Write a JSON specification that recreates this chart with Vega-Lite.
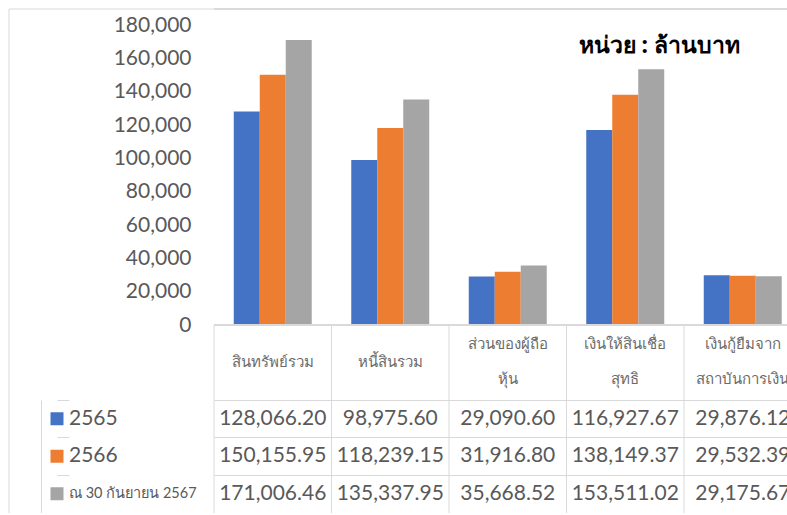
{
  "$schema": "https://vega.github.io/schema/vega-lite/v6.json",
  "padding": {"left": 8, "top": 8, "right": 0, "bottom": 0},
  "background": "#ffffff",
  "bounds": "flush",
  "spacing": 0,
  "columns": 3,
  "config": {
    "view": {"stroke": null},
    "font": "Lato"
  },
  "datasets": {
    "values": [
      {"item": "สินทรัพย์รวม", "series": "2565", "value": 128066.20},
      {"item": "สินทรัพย์รวม", "series": "2566", "value": 150155.95},
      {"item": "สินทรัพย์รวม", "series": "ณ 30 กันยายน 2567", "value": 171006.46},
      {"item": "หนี้สินรวม", "series": "2565", "value": 98975.60},
      {"item": "หนี้สินรวม", "series": "2566", "value": 118239.15},
      {"item": "หนี้สินรวม", "series": "ณ 30 กันยายน 2567", "value": 135337.95},
      {"item": "ส่วนของผู้ถือหุ้น", "series": "2565", "value": 29090.60},
      {"item": "ส่วนของผู้ถือหุ้น", "series": "2566", "value": 31916.80},
      {"item": "ส่วนของผู้ถือหุ้น", "series": "ณ 30 กันยายน 2567", "value": 35668.52},
      {"item": "เงินให้สินเชื่อสุทธิ", "series": "2565", "value": 116927.67},
      {"item": "เงินให้สินเชื่อสุทธิ", "series": "2566", "value": 138149.37},
      {"item": "เงินให้สินเชื่อสุทธิ", "series": "ณ 30 กันยายน 2567", "value": 153511.02},
      {"item": "เงินกู้ยืมจากสถาบันการเงิน", "series": "2565", "value": 29876.12},
      {"item": "เงินกู้ยืมจากสถาบันการเงิน", "series": "2566", "value": 29532.39},
      {"item": "เงินกู้ยืมจากสถาบันการเงิน", "series": "ณ 30 กันยายน 2567", "value": 29175.67}
    ],
    "cats": [
      {"item": "สินทรัพย์รวม"},
      {"item": "หนี้สินรวม"},
      {"item": "ส่วนของผู้ถือหุ้น"},
      {"item": "เงินให้สินเชื่อสุทธิ"},
      {"item": "เงินกู้ยืมจากสถาบันการเงิน"}
    ],
    "lines": [
      {"item": "สินทรัพย์รวม", "line": "mid", "label": "สินทรัพย์รวม"},
      {"item": "หนี้สินรวม", "line": "mid", "label": "หนี้สินรวม"},
      {"item": "ส่วนของผู้ถือหุ้น", "line": "first", "label": "ส่วนของผู้ถือ"},
      {"item": "ส่วนของผู้ถือหุ้น", "line": "second", "label": "หุ้น"},
      {"item": "เงินให้สินเชื่อสุทธิ", "line": "first", "label": "เงินให้สินเชื่อ"},
      {"item": "เงินให้สินเชื่อสุทธิ", "line": "second", "label": "สุทธิ"},
      {"item": "เงินกู้ยืมจากสถาบันการเงิน", "line": "first", "label": "เงินกู้ยืมจาก"},
      {"item": "เงินกู้ยืมจากสถาบันการเงิน", "line": "second", "label": "สถาบันการเงิน"}
    ],
    "series": [
      {"series": "2565"},
      {"series": "2566"},
      {"series": "ณ 30 กันยายน 2567"}
    ],
    "one": [{"k": 1}]
  },
  "concat": [
    {
      "width": 32,
      "height": 316,
      "data": {"name": "one"},
      "layer": [
        {
          "mark": {"type": "rule", "color": "#d9d9d9"},
          "encoding": {"x": {"datum": 0, "type": "quantitative", "scale": {"domain": [0, 1]}, "axis": null}}
        },
        {
          "mark": {"type": "rule", "color": "#d9d9d9"},
          "encoding": {"y": {"datum": 1, "type": "quantitative", "scale": {"domain": [0, 1]}, "axis": null}}
        }
      ]
    },
    {
      "width": 173,
      "height": 316,
      "data": {"name": "one"},
      "mark": {"type": "rule", "color": "#d9d9d9"},
      "encoding": {"y": {"datum": 1, "type": "quantitative", "scale": {"domain": [0, 1]}, "axis": null}}
    },
    {
      "width": 573,
      "height": 316,
      "data": {"name": "values"},
      "title": {
        "text": "หน่วย : ล้านบาท",
        "anchor": "end",
        "frame": "group",
        "orient": "top",
        "offset": -49,
        "dx": -47,
        "fontSize": 23,
        "fontWeight": "bold",
        "color": "#000000",
        "font": "Noto Sans"
      },
      "layer": [
        {
          "mark": {"type": "bar"},
          "encoding": {
            "x": {
              "field": "item",
              "type": "nominal",
              "sort": null,
              "scale": {
                "domain": ["สินทรัพย์รวม", "หนี้สินรวม", "ส่วนของผู้ถือหุ้น", "เงินให้สินเชื่อสุทธิ", "เงินกู้ยืมจากสถาบันการเงิน"],
                "range": [0, 587.5],
                "paddingInner": 0,
                "paddingOuter": 0
              },
              "axis": null
            },
            "xOffset": {
              "field": "series",
              "type": "nominal",
              "scale": {
                "domain": ["2565", "2566", "ณ 30 กันยายน 2567"],
                "paddingInner": 0,
                "paddingOuter": 0.76
              }
            },
            "y": {
              "field": "value",
              "type": "quantitative",
              "scale": {"domain": [0, 189600], "nice": false, "zero": true},
              "axis": {
                "values": [0, 20000, 40000, 60000, 80000, 100000, 120000, 140000, 160000, 180000],
                "format": ",.0f",
                "labelFont": "Lato",
                "labelFontSize": 21,
                "labelColor": "#595959",
                "labelPadding": 23,
                "ticks": false,
                "tickSize": 0,
                "domain": false,
                "grid": false,
                "title": null
              }
            },
            "color": {
              "field": "series",
              "type": "nominal",
              "scale": {
                "domain": ["2565", "2566", "ณ 30 กันยายน 2567"],
                "range": ["#4472C4", "#ED7D31", "#A5A5A5"]
              },
              "legend": null
            }
          }
        },
        {
          "mark": {"type": "rule", "color": "#d9d9d9"},
          "encoding": {
            "y": {
              "datum": 0,
              "type": "quantitative",
              "axis": {
                "values": [0, 20000, 40000, 60000, 80000, 100000, 120000, 140000, 160000, 180000],
                "format": ",.0f",
                "labelFont": "Lato",
                "labelFontSize": 21,
                "labelColor": "#595959",
                "labelPadding": 23,
                "ticks": false,
                "tickSize": 0,
                "domain": false,
                "grid": false,
                "title": null
              }
            }
          }
        },
        {
          "mark": {"type": "rule", "color": "#d9d9d9"},
          "encoding": {
            "y": {
              "datum": 189600,
              "type": "quantitative",
              "axis": {
                "values": [0, 20000, 40000, 60000, 80000, 100000, 120000, 140000, 160000, 180000],
                "format": ",.0f",
                "labelFont": "Lato",
                "labelFontSize": 21,
                "labelColor": "#595959",
                "labelPadding": 23,
                "ticks": false,
                "tickSize": 0,
                "domain": false,
                "grid": false,
                "title": null
              }
            }
          }
        }
      ]
    },
    {
      "width": 32,
      "height": 75,
      "data": {"name": "one"},
      "mark": {"type": "rule", "color": "#d9d9d9"},
      "encoding": {"x": {"datum": 0, "type": "quantitative", "scale": {"domain": [0, 1]}, "axis": null}}
    },
    {
      "width": 173,
      "height": 75,
      "data": {"name": "one"},
      "mark": {"type": "rule", "color": "#ffffff", "opacity": 0},
      "encoding": {"x": {"datum": 0, "type": "quantitative", "scale": {"domain": [0, 1]}, "axis": null}}
    },
    {
      "width": 573,
      "height": 75,
      "layer": [
        {
          "data": {"name": "cats"},
          "mark": {"type": "rule", "color": "#d9d9d9"},
          "encoding": {
            "x": {
              "field": "item",
              "type": "nominal",
              "sort": null,
              "bandPosition": 0,
              "scale": {
                "domain": ["สินทรัพย์รวม", "หนี้สินรวม", "ส่วนของผู้ถือหุ้น", "เงินให้สินเชื่อสุทธิ", "เงินกู้ยืมจากสถาบันการเงิน"],
                "range": [0, 587.5],
                "paddingInner": 0,
                "paddingOuter": 0
              },
              "axis": null
            }
          }
        },
        {
          "data": {"name": "lines"},
          "mark": {
            "type": "text",
            "fontSize": 15,
            "color": "#6b6b6b",
            "font": "Noto Sans",
            "baseline": "middle",
            "align": "center",
            "clip": true
          },
          "encoding": {
            "x": {"field": "item", "type": "nominal", "sort": null},
            "y": {
              "field": "line",
              "type": "nominal",
              "scale": {"type": "point", "domain": ["first", "mid", "second"], "range": [19, 54], "padding": 0},
              "axis": null
            },
            "text": {"field": "label", "type": "nominal"}
          }
        }
      ]
    },
    {
      "width": 32,
      "height": 113,
      "data": {"name": "one"},
      "mark": {"type": "rule", "color": "#d9d9d9"},
      "encoding": {"x": {"datum": 0, "type": "quantitative", "scale": {"domain": [0, 1]}, "axis": null}}
    },
    {
      "width": 173,
      "height": 113,
      "data": {"name": "series"},
      "layer": [
        {
          "mark": {"type": "point", "shape": "square", "filled": true, "size": 169, "opacity": 1, "strokeWidth": 0},
          "encoding": {
            "x": {"datum": "swatch", "type": "nominal", "scale": {"type": "point", "domain": ["swatch", "label"], "range": [16, 28], "padding": 0}, "axis": null},
            "y": {
              "field": "series",
              "type": "nominal",
              "sort": null,
              "scale": {"type": "band", "domain": ["2565", "2566", "ณ 30 กันยายน 2567"], "range": [0, 112.5], "paddingInner": 0, "paddingOuter": 0},
              "axis": {
                "grid": true,
                "bandPosition": 0,
                "gridColor": "#d9d9d9",
                "gridOpacity": 1,
                "domain": true,
                "domainColor": "#d9d9d9",
                "labels": false,
                "ticks": false,
                "title": null
              }
            },
            "color": {
              "field": "series",
              "type": "nominal",
              "scale": {
                "domain": ["2565", "2566", "ณ 30 กันยายน 2567"],
                "range": ["#4472C4", "#ED7D31", "#A5A5A5"]
              },
              "legend": null
            }
          }
        },
        {
          "mark": {"type": "text", "align": "left", "baseline": "middle", "color": "#595959", "font": "Lato"},
          "encoding": {
            "x": {"datum": "label", "type": "nominal"},
            "y": {"field": "series", "type": "nominal", "sort": null},
            "text": {"field": "series", "type": "nominal"},
            "size": {
              "condition": {"test": "datum.series === 'ณ 30 กันยายน 2567'", "value": 14.5},
              "value": 21
            }
          }
        }
      ]
    },
    {
      "width": 573,
      "height": 113,
      "layer": [
        {
          "data": {"name": "cats"},
          "mark": {"type": "rule", "color": "#d9d9d9"},
          "encoding": {
            "x": {
              "field": "item",
              "type": "nominal",
              "sort": null,
              "bandPosition": 0,
              "scale": {
                "domain": ["สินทรัพย์รวม", "หนี้สินรวม", "ส่วนของผู้ถือหุ้น", "เงินให้สินเชื่อสุทธิ", "เงินกู้ยืมจากสถาบันการเงิน"],
                "range": [0, 587.5],
                "paddingInner": 0,
                "paddingOuter": 0
              },
              "axis": null
            }
          }
        },
        {
          "data": {"name": "values"},
          "mark": {"type": "text", "fontSize": 21, "color": "#595959", "font": "Lato", "baseline": "middle", "align": "center", "clip": true},
          "encoding": {
            "x": {"field": "item", "type": "nominal", "sort": null},
            "y": {
              "field": "series",
              "type": "nominal",
              "sort": null,
              "scale": {"type": "band", "domain": ["2565", "2566", "ณ 30 กันยายน 2567"], "range": [0, 112.5], "paddingInner": 0, "paddingOuter": 0},
              "axis": {
                "grid": true,
                "bandPosition": 0,
                "gridColor": "#d9d9d9",
                "gridOpacity": 1,
                "domain": false,
                "labels": false,
                "ticks": false,
                "title": null
              }
            },
            "text": {"field": "value", "type": "quantitative", "format": ",.2f"}
          }
        }
      ]
    }
  ]
}
